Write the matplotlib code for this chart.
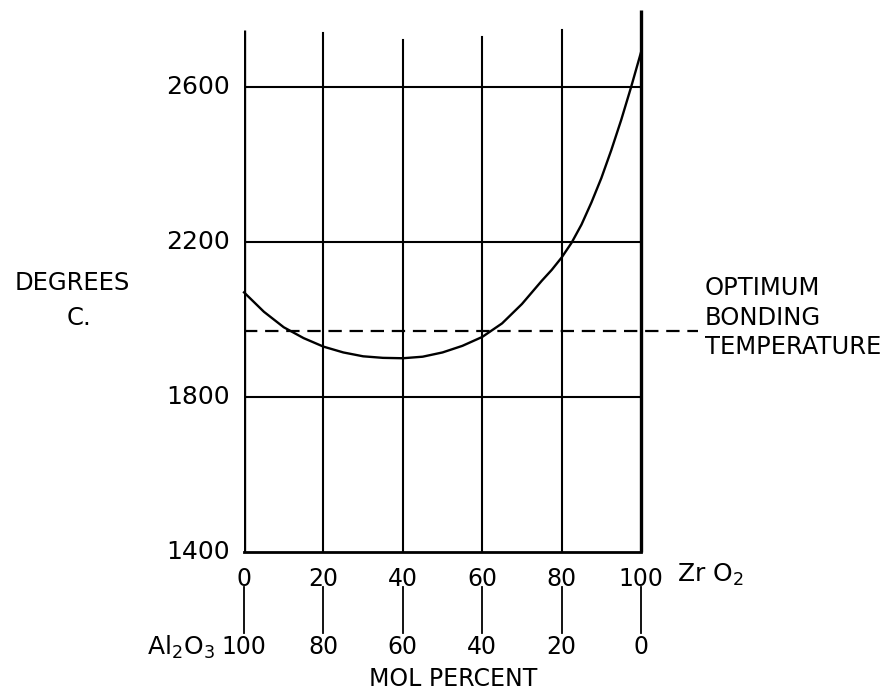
import matplotlib
matplotlib.use("Agg")
import matplotlib.pyplot as plt

zro2_pct = [0, 5, 10, 15, 20, 25, 30, 35, 40, 45, 50, 55, 60, 65, 70, 75, 77.5, 80,
            82.5, 85, 87.5, 90, 92.5, 95, 97.5, 100]
temp_c = [2070, 2020, 1980, 1952, 1930, 1915, 1905, 1901, 1900, 1904, 1915, 1932, 1955, 1990, 2040, 2100, 2128,
          2160, 2198, 2245, 2302, 2365, 2437, 2515, 2600, 2690]
bonding_temp = 1970
y_ticks = [1400, 1800, 2200, 2600]
zro2_ticks = [0, 20, 40, 60, 80, 100]
al2o3_labels = ["100", "80", "60", "40", "20", "0"]
note_lines = ["OPTIMUM", "BONDING", "TEMPERATURE"]

plt.rcParams["font.family"] = ["DejaVu Sans"]
plt.rcParams["mathtext.default"] = "regular"

fig = plt.figure(figsize=(8.89, 6.92), dpi=100)
ax = fig.add_axes([0.2745, 0.2023, 0.4466, 0.784])
ax.set_xlim(0, 100)
ax.set_ylim(1400, 2800)
ax.axis("off")

k = "black"

# frame: left and right axes, bottom line
ax.plot([0, 0], [1400, 2747], color=k, lw=2.4, solid_capstyle="butt")
ax.plot([100, 100], [1400, 2799], color=k, lw=2.4, solid_capstyle="butt", clip_on=False)
ax.plot([0, 100], [1400, 1400], color=k, lw=2.0, clip_on=False)

# vertical grid lines, hand drawn so tops differ a bit
vtops = [2739, 2721, 2729, 2747]
for x, top in zip(zro2_ticks[1:-1], vtops):
    ax.plot([x, x], [1400, top], color=k, lw=1.5)

# horizontal grid lines
for y in y_ticks[1:]:
    ax.plot([0, 100], [y, y], color=k, lw=1.5)

# the curve
ax.plot(zro2_pct, temp_c, color=k, lw=1.7, clip_on=False)

# optimum bonding temperature
ax.plot([0, 114.4], [bonding_temp, bonding_temp], color=k, lw=1.6,
        dashes=(6, 3.5), clip_on=False)
for i, s in enumerate(note_lines):
    ax.text(116.1, 2081 - i * 76, s, fontsize=17.5, ha="left", va="center", clip_on=False)

# y tick labels
for y in y_ticks:
    ax.text(-3.5, y, str(y), fontsize=18, ha="right", va="center", clip_on=False)

ax.text(-43.3, 2094, "DEGREES", fontsize=17.5, ha="center", va="center", clip_on=False)
ax.text(-41.6, 2004, "C.", fontsize=17.5, ha="center", va="center", clip_on=False)

# double x scale
for x, lab in zip(zro2_ticks, al2o3_labels):
    ax.text(x, 1330, str(x), fontsize=17, ha="center", va="center", clip_on=False)
    ax.plot([x, x], [1310, 1191], color=k, lw=1.3, clip_on=False)
    ax.text(x, 1155, lab, fontsize=17, ha="center", va="center", clip_on=False)

ax.text(109, 1341, "Zr O$_2$", fontsize=18, ha="left", va="center", clip_on=False)
ax.text(-7.3, 1155, "Al$_2$O$_3$", fontsize=18, ha="right", va="center", clip_on=False)
ax.text(52.6, 1072, "MOL PERCENT", fontsize=17, ha="center", va="center", clip_on=False)

fig.savefig("out.png", dpi=100)
